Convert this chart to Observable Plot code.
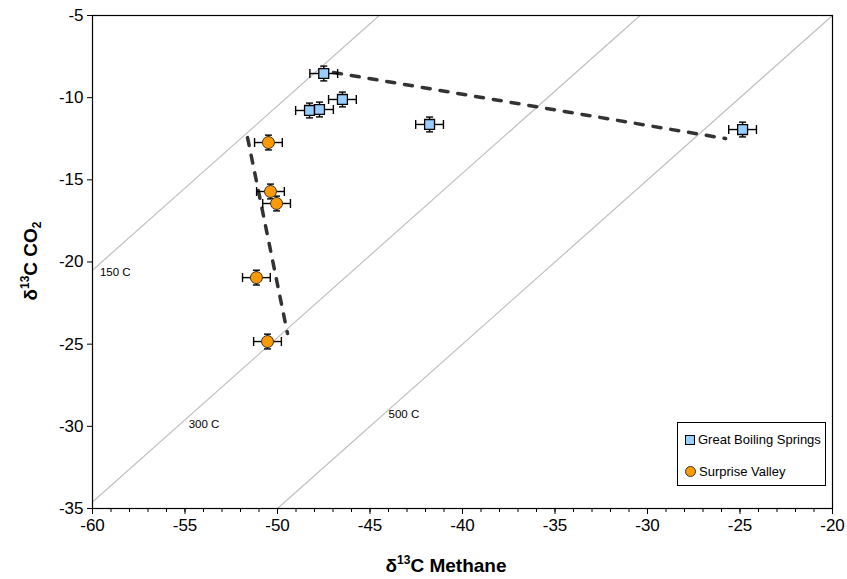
<!DOCTYPE html>
<html>
<head>
<meta charset="utf-8">
<script src="https://cdn.jsdelivr.net/npm/d3@7"></script>
<script src="https://cdn.jsdelivr.net/npm/@observablehq/plot@0.6"></script>
<style>
  html, body { margin: 0; padding: 0; background: #fff; }
  #wrap { position: relative; width: 847px; height: 579px; font-family: Arial, "Liberation Sans", sans-serif; }
  #legend { position: absolute; left: 677px; top: 422px; width: 149px; height: 64px; border: 1px solid #000; background: #fff; box-sizing: border-box; font-size: 13px; }
  .li { position: absolute; left: 7px; display: flex; align-items: center; white-space: nowrap; }
  .sq { width: 8px; height: 8px; background: #99CCFF; border: 1px solid #000; margin-right: 3px; }
  .ci { width: 9px; height: 9px; border-radius: 50%; background: #FF9900; border: 1px solid #333; margin-right: 3px; }
</style>
</head>
<body>
<div id="wrap"></div>
<script>
// ---- data ----
const gbsX = [-47.5, -48.27, -47.73, -46.49, -41.78, -24.86];
const gbsY = [-8.53, -10.78, -10.72, -10.11, -11.63, -11.94];
const svX = [-50.49, -50.38, -50.05, -51.14, -50.54];
const svY = [-12.73, -15.71, -16.44, -20.95, -24.84];
const errX = 0.75;
const errY = 0.45;

const seriesNames = ["Great Boiling Springs", "Surprise Valley"];

// isotherm reference lines (end points) and labels
const isoNames = ["150 C", "300 C", "500 C"];
const isoX1 = [-60, -60, -50];
const isoY1 = [-20.5, -34.6, -35];
const isoX2 = [-44.5, -30.4, -20];
const isoY2 = [-5, -5, -5];
const isoLabelX = [-59.6, -54.8, -44.0];
const isoLabelY = [-20.6, -29.85, -29.25];

// dashed mixing lines
const trendNames = ["GBS", "SV"];
const trendX1 = [-46.97, -51.62];
const trendY1 = [-8.47, -12.43];
const trendX2 = [-25.78, -49.46];
const trendY2 = [-12.49, -24.35];

const xTicks = [-60, -55, -50, -45, -40, -35, -30, -25, -20];
const xMinor = d3.range(-60, -19, 1);
const yTicks = [-35, -30, -25, -20, -15, -10, -5];

// ---- tables ----
const gbs = gbsX.map((x, i) => ({x, y: gbsY[i], s: seriesNames[0]}));
const sv = svX.map((x, i) => ({x, y: svY[i], s: seriesNames[1]}));
const pts = gbs.concat(sv);
const iso = isoNames.flatMap((n, i) => [{n, x: isoX1[i], y: isoY1[i]}, {n, x: isoX2[i], y: isoY2[i]}]);
const isoLab = isoNames.map((n, i) => ({n, x: isoLabelX[i], y: isoLabelY[i]}));
const trend = trendNames.flatMap((n, i) => [{n, x: trendX1[i], y: trendY1[i]}, {n, x: trendX2[i], y: trendY2[i]}]);

const capV = { draw(ctx, size) { const h = Math.sqrt(size / Math.PI); ctx.moveTo(0, -h); ctx.lineTo(0, h); } };
const capH = { draw(ctx, size) { const h = Math.sqrt(size / Math.PI); ctx.moveTo(-h, 0); ctx.lineTo(h, 0); } };

const chart = Plot.plot({
  width: 847, height: 579,
  marginLeft: 92, marginRight: 15, marginTop: 15, marginBottom: 71,
  x: { domain: [-60, -20], label: null },
  y: { domain: [-35, -5], label: null },
  style: { fontFamily: "Arial, 'Liberation Sans', sans-serif", fontSize: "17px", color: "#000", background: "#fff", overflow: "visible" },
  marks: [
    Plot.line(iso, { x: "x", y: "y", z: "n", stroke: "#c0c0c0", strokeWidth: 1.2 }),
    Plot.text(isoLab, { x: "x", y: "y", text: "n", textAnchor: "start", fontSize: 11.5, fill: "#000" }),
    Plot.line(trend, { x: "x", y: "y", z: "n", stroke: "#333", strokeWidth: 3.5, strokeDasharray: "8,10" }),
    Plot.frame({ stroke: "#000", strokeWidth: 1.2 }),
    Plot.axisX({ ticks: xMinor, tickSize: 4, tickFormat: () => "" }),
    Plot.axisX({ ticks: xTicks, tickSize: 6, tickPadding: 4, tickFormat: d => String(d), fontSize: 17 }),
    Plot.axisY({ ticks: yTicks, tickSize: 5, tickPadding: 4, tickFormat: d => String(d), fontSize: 17 }),
    // error bars
    Plot.link(pts, { x1: d => d.x - errX, x2: d => d.x + errX, y1: "y", y2: "y", stroke: "#000", strokeWidth: 1.4 }),
    Plot.link(pts, { x1: "x", x2: "x", y1: d => d.y - errY, y2: d => d.y + errY, stroke: "#000", strokeWidth: 1.4 }),
    Plot.dot(pts, { x: d => d.x - errX, y: "y", symbol: capV, r: 4.5, fill: "none", stroke: "#000", strokeWidth: 1.4 }),
    Plot.dot(pts, { x: d => d.x + errX, y: "y", symbol: capV, r: 4.5, fill: "none", stroke: "#000", strokeWidth: 1.4 }),
    Plot.dot(pts, { x: "x", y: d => d.y - errY, symbol: capH, r: 3.5, fill: "none", stroke: "#000", strokeWidth: 1.4 }),
    Plot.dot(pts, { x: "x", y: d => d.y + errY, symbol: capH, r: 3.5, fill: "none", stroke: "#000", strokeWidth: 1.4 }),
    // markers
    Plot.dot(gbs, { x: "x", y: "y", symbol: "square", r: 5.6, fill: "#99CCFF", stroke: "#000", strokeWidth: 1.3 }),
    Plot.dot(sv, { x: "x", y: "y", symbol: "circle", r: 6, fill: "#FF9900", stroke: "#333", strokeWidth: 1 })
  ]
});

const wrap = document.getElementById("wrap");
wrap.appendChild(chart);

// axis titles with superscripts/subscripts
const svg = d3.select(chart);
const xt = svg.append("text")
  .attr("x", 446).attr("y", 572).attr("text-anchor", "middle")
  .attr("font-size", 19).attr("font-weight", "bold").attr("fill", "#000");
xt.append("tspan").text("δ");
xt.append("tspan").attr("font-size", 12).attr("dy", -8).text("13");
xt.append("tspan").attr("dy", 8).text("C Methane");

const yt = svg.append("text")
  .attr("transform", "translate(37,261) rotate(-90)").attr("text-anchor", "middle")
  .attr("font-size", 19).attr("font-weight", "bold").attr("fill", "#000");
yt.append("tspan").text("δ");
yt.append("tspan").attr("font-size", 12).attr("dy", -8).text("13");
yt.append("tspan").attr("dy", 8).text("C CO");
yt.append("tspan").attr("font-size", 12).attr("dy", 4).text("2");

// legend
const lg = document.createElement("div");
lg.id = "legend";
lg.innerHTML =
  `<div class="li" style="top:9px"><span class="sq"></span>${seriesNames[0]}</div>` +
  `<div class="li" style="top:41px"><span class="ci"></span>${seriesNames[1]}</div>`;
wrap.appendChild(lg);
</script>
</body>
</html>
